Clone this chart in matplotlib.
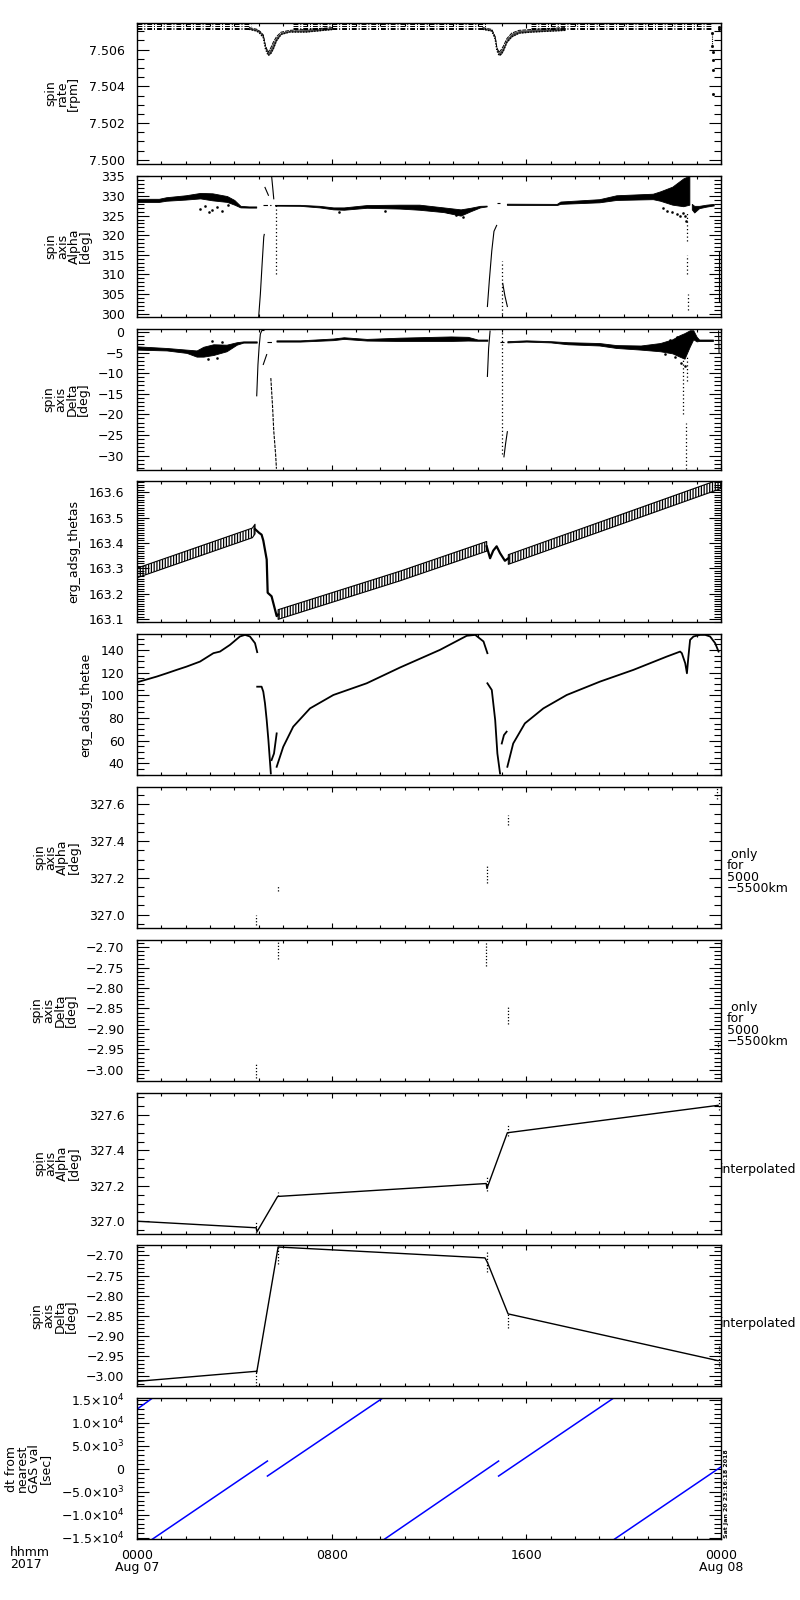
import matplotlib
matplotlib.use("Agg")
import matplotlib.pyplot as plt
from matplotlib.ticker import MultipleLocator, FixedLocator, FuncFormatter
import numpy as np

plt.rcParams['font.family'] = ['DejaVu Sans']
plt.rcParams['font.size'] = 9
plt.rcParams['axes.linewidth'] = 1.0
plt.rcParams['hatch.linewidth'] = 0.9

# ---------------- data (hours since 2017-08-07 00:00) ----------------
# panel 1: spin rate [rpm]
p1_base_levels = [7.50737, 7.50729, 7.50720, 7.50711]
p1_base_t0 = [0.0, 6.4, 16.2]
p1_base_t1 = [4.7, 14.4, 23.6]
p1_dip1_t = [4.60, 4.92, 5.05, 5.19, 5.28, 5.39, 5.50, 5.60, 5.73, 5.92, 6.27, 6.95, 8.05]
p1_dip1_lo = [7.50711, 7.50701, 7.50688, 7.50665, 7.50604, 7.50568, 7.50580, 7.50604, 7.50648, 7.50683, 7.50696, 7.50696, 7.50710]
p1_dip1_hi = [7.50720, 7.50711, 7.50700, 7.50680, 7.50620, 7.50585, 7.50610, 7.50640, 7.50670, 7.50695, 7.50705, 7.50710, 7.50720]
p1_dip2_t = [14.20, 14.58, 14.72, 14.79, 14.88, 14.97, 15.06, 15.20, 15.40, 15.70, 16.25, 17.60]
p1_dip2_lo = [7.50711, 7.50701, 7.50657, 7.50595, 7.50568, 7.50575, 7.50595, 7.50640, 7.50670, 7.50690, 7.50696, 7.50705]
p1_dip2_hi = [7.50720, 7.50710, 7.50670, 7.50610, 7.50585, 7.50600, 7.50620, 7.50660, 7.50690, 7.50705, 7.50710, 7.50720]
p1_end_t = [23.65, 23.65, 23.66, 23.66, 23.67, 23.68, 23.90, 23.91]
p1_end_v = [7.50690, 7.50621, 7.50586, 7.50542, 7.50489, 7.50356, 7.50715, 7.50722]

# panel 2: spin axis Alpha [deg]
p2_a_t = [0.0, 0.9, 1.2, 2.0, 2.6, 3.1, 3.7, 4.0, 4.25, 4.6, 4.9]
p2_a_hi = [329.3, 329.3, 329.7, 330.2, 330.8, 330.7, 330.0, 329.0, 327.5, 327.35, 327.35]
p2_a_lo = [328.5, 328.5, 328.8, 329.1, 329.4, 328.9, 328.5, 327.8, 327.1, 327.05, 327.05]
p2_b_t = [5.67, 6.7, 7.5, 8.07, 8.5, 9.44, 10.8, 11.6, 12.6, 13.3, 13.7, 14.1, 14.37]
p2_b_hi = [327.75, 327.75, 327.5, 327.1, 327.1, 327.7, 327.8, 327.8, 327.1, 326.6, 327.0, 327.5, 327.55]
p2_b_lo = [327.55, 327.5, 327.1, 326.6, 326.5, 327.0, 326.8, 326.5, 325.9, 325.0, 326.1, 327.1, 327.35]
p2_c_t = [15.2, 17.25, 17.4, 19.0, 19.7, 21.2, 21.5, 22.0, 22.45, 22.7]
p2_c_hi = [328.05, 328.0, 328.6, 329.2, 330.2, 330.6, 331.2, 332.4, 334.5, 335.2]
p2_c_lo = [327.75, 327.7, 328.0, 328.4, 329.0, 329.2, 328.8, 327.8, 327.4, 327.8]
p2_d_t = [22.8, 22.9, 23.1, 23.4, 23.7]
p2_d_hi = [328.0, 327.5, 327.5, 327.8, 328.0]
p2_d_lo = [326.6, 325.8, 326.9, 327.3, 327.6]
p2_sc_t = [2.6, 2.8, 2.95, 3.1, 3.3, 3.5, 3.75, 8.3, 10.2, 12.8, 13.1, 13.4, 21.6, 21.8, 22.0, 22.2, 22.3, 22.45, 22.5, 22.55]
p2_sc_v = [326.8, 327.5, 325.9, 326.5, 327.3, 326.2, 327.8, 325.9, 326.3, 325.8, 325.2, 324.6, 327.0, 326.2, 325.8, 325.4, 325.0, 325.6, 324.8, 323.6]
p2_e1a_t = [5.00, 5.07, 5.14, 5.21, 5.23]
p2_e1a_v = [299.2, 305.0, 312.5, 319.6, 320.2]
p2_e1b_t = [5.26, 5.40]
p2_e1b_v = [332.2, 330.2]
p2_e1c_t = [5.53, 5.58, 5.62]
p2_e1c_v = [335.2, 332.0, 329.3]
p2_e2a_t = [14.40, 14.48, 14.58, 14.67, 14.78]
p2_e2a_v = [301.8, 308.5, 316.0, 321.0, 322.5]
p2_e2d_t = [15.03, 15.12, 15.22]
p2_e2d_v = [307.7, 304.5, 301.8]
p2_dash_t0 = [5.19, 14.78]
p2_dash_t1 = [5.49, 14.90]
p2_dash_v = [327.6, 328.1]
p2_dots_t = [5.70, 14.99, 22.62, 22.60, 22.63]
p2_dots_lo = [310.0, 300.0, 318.5, 310.0, 301.0]
p2_dots_hi = [328.0, 313.5, 326.0, 315.0, 305.0]
p2_edge_t = [23.93, 23.93]
p2_edge_v = [303.0, 316.0]

# panel 3: spin axis Delta [deg]
p3_a_t = [0.0, 1.22, 2.04, 2.45, 2.73, 3.14, 3.68, 4.1, 4.37, 4.92]
p3_a_hi = [-3.5, -3.9, -4.3, -4.5, -3.6, -3.0, -3.1, -2.5, -2.3, -2.3]
p3_a_lo = [-4.3, -4.5, -5.1, -6.0, -6.0, -5.6, -4.7, -3.1, -2.6, -2.6]
p3_b_t = [5.73, 6.7, 8.07, 8.5, 9.44, 10.8, 12.9, 13.6, 14.0, 14.4]
p3_b_hi = [-2.05, -2.05, -1.6, -1.3, -1.7, -1.4, -1.1, -1.2, -1.85, -1.85]
p3_b_lo = [-2.35, -2.35, -2.0, -1.7, -2.1, -2.2, -2.2, -2.1, -2.15, -2.15]
p3_c_t = [15.22, 16.0, 17.0, 17.7, 19.0, 19.7, 20.7, 21.5, 22.0, 22.3, 22.5, 22.72, 22.86, 23.0, 23.1, 23.67]
p3_c_hi = [-2.25, -2.05, -2.25, -2.5, -2.7, -3.2, -3.3, -2.7, -1.8, -0.8, -0.3, 0.4, 0.4, -1.2, -1.85, -1.85]
p3_c_lo = [-2.55, -2.35, -2.55, -3.0, -3.3, -3.9, -4.3, -4.7, -5.2, -6.0, -6.5, -3.5, -1.8, -2.3, -2.2, -2.2]
p3_e1a_t = [4.92, 4.97, 5.02, 5.07, 5.12]
p3_e1a_v = [-15.5, -8.0, -3.5, -0.5, 0.2]
p3_e1b_t = [5.19, 5.33]
p3_e1b_v = [-7.9, -5.5]
p3_e1d_t = [5.50, 5.57, 5.62, 5.70, 5.73]
p3_e1d_v = [-11.2, -18.0, -24.0, -30.0, -33.2]
p3_e2a_t = [14.40, 14.45, 14.51]
p3_e2a_v = [-10.8, -4.0, 0.2]
p3_e2d_t = [15.08, 15.15, 15.22]
p3_e2d_v = [-30.3, -27.0, -24.2]
p3_dash_t0 = [5.33, 5.10, 14.55, 14.90]
p3_dash_t1 = [5.53, 5.20, 14.78, 15.08]
p3_dash_v = [-2.45, 0.4, 0.6, -2.45]
p3_dots_t = [14.99, 22.45, 22.55, 22.60]
p3_dots_lo = [-29.5, -20.0, -33.2, -12.0]
p3_dots_hi = [0.6, -5.0, -22.0, -6.0]
p3_sc_t = [2.9, 3.1, 3.3, 3.5, 21.7, 21.9, 22.1, 22.2, 22.35, 22.5]
p3_sc_v = [-6.6, -2.2, -6.4, -2.4, -5.4, -2.0, -6.2, -1.2, -7.6, -8.2]
p3_edge_t = [23.90, 23.92]
p3_edge_v = [0.2, -5.0]

# panel 4: erg_adsg_thetas
p4_a_t = [0.0, 4.74, 4.85]
p4_a_v = [163.282, 163.440, 163.455]
p4_tr1_t = [4.85, 5.02, 5.12, 5.19, 5.33, 5.37, 5.53, 5.67, 5.74, 5.80]
p4_tr1_v = [163.455, 163.440, 163.433, 163.410, 163.335, 163.204, 163.190, 163.138, 163.112, 163.118]
p4_b_t = [5.80, 10.81, 14.37]
p4_b_v = [163.118, 163.270, 163.387]
p4_tr2_t = [14.37, 14.51, 14.64, 14.78, 14.92, 15.12, 15.26]
p4_tr2_v = [163.387, 163.340, 163.370, 163.387, 163.360, 163.330, 163.340]
p4_c_t = [15.26, 23.89, 24.0]
p4_c_v = [163.335, 163.630, 163.635]

# panel 5: erg_adsg_thetae
p5_a_t = [0.0, 0.81, 1.22, 1.63, 2.04, 2.59, 3.14, 3.41, 3.82, 4.23, 4.44, 4.64, 4.85, 4.94]
p5_a_v = [111.5, 116.5, 119.4, 122.4, 125.3, 129.7, 137.1, 138.5, 144.4, 151.8, 153.2, 151.8, 145.9, 138.0]
p5_a1_t = [4.94, 5.12, 5.19, 5.26, 5.33, 5.40, 5.50]
p5_a1_v = [107.6, 107.6, 103.2, 92.9, 78.2, 60.6, 31.2]
p5_a2_t = [5.53, 5.63, 5.74]
p5_a2_v = [43.0, 48.8, 66.5]
p5_b_t = [5.74, 6.01, 6.42, 7.11, 8.07, 9.44, 10.81, 12.45, 13.55, 13.90, 14.24, 14.40]
p5_b_v = [37.1, 54.7, 72.4, 88.5, 100.3, 110.6, 124.5, 140.0, 152.4, 153.2, 147.4, 137.1]
p5_b1_t = [14.40, 14.58, 14.72, 14.81, 14.92]
p5_b1_v = [110.6, 104.7, 78.2, 48.8, 31.2]
p5_b2_t = [14.99, 15.08, 15.19]
p5_b2_v = [57.6, 65.0, 68.0]
p5_c_t = [15.22, 15.46, 15.94, 16.70, 17.66, 19.03, 20.40, 21.77, 22.32, 22.39, 22.53, 22.60, 22.66, 22.73,
          22.87, 23.14, 23.35, 23.55, 23.76, 23.90]
p5_c_v = [37.1, 57.6, 75.3, 88.5, 100.3, 112.1, 122.4, 134.1, 138.5, 137.1, 128.2, 119.4, 134.0, 148.8,
          151.8, 153.2, 153.2, 151.8, 145.9, 138.5]

# panel 6/7: values only for 5000-5500 km (short dotted clusters)
p6_t = [4.90, 5.78, 14.37, 15.25, 23.85]
p6_lo = [326.945, 327.130, 327.173, 327.490, 327.630]
p6_hi = [327.000, 327.160, 327.264, 327.545, 327.690]
p7_t = [4.90, 5.78, 14.35, 15.25, 23.87]
p7_lo = [-3.020, -2.730, -2.746, -2.888, -2.960]
p7_hi = [-2.985, -2.680, -2.688, -2.843, -2.930]

# panel 8/9: interpolated
p8_t = [0.0, 4.90, 4.93, 5.78, 14.35, 14.38, 15.22, 23.88]
p8_v = [327.000, 326.963, 326.940, 327.140, 327.213, 327.185, 327.500, 327.655]
p8_dots_t = [4.90, 5.80, 14.37, 15.25, 23.90]
p8_dots_lo = [326.935, 327.140, 327.170, 327.480, 327.630]
p8_dots_hi = [326.995, 327.165, 327.250, 327.545, 327.720]
p9_t = [0.0, 4.90, 4.92, 5.80, 14.30, 14.40, 15.25, 23.87]
p9_v = [-3.0125, -2.9875, -2.990, -2.679, -2.706, -2.717, -2.845, -2.961]
p9_dots_t = [4.90, 5.80, 14.37, 15.25, 23.90]
p9_dots_lo = [-3.025, -2.720, -2.742, -2.880, -2.975]
p9_dots_hi = [-2.990, -2.680, -2.688, -2.845, -2.920]

# panel 10: dt from nearest GAS value [sec]
p10_t0 = [0.00, 0.63, 5.36, 10.17, 14.86, 19.62]
p10_t1 = [0.63, 5.36, 10.09, 14.86, 19.58, 24.00]
p10_v0 = [12960, -15364, -1600, -15364, -1600, -15364]
p10_v1 = [15364, 1670, 15364, 1670, 15364, 400]

# axis settings
ylims = [(7.49977, 7.50745), (299.17, 335.17), (-33.4, 0.8), (163.087, 163.643), (29.7, 153.8),
         (326.927, 327.695), (-3.027, -2.682), (326.930, 327.727), (-3.025, -2.675), (-15364, 15364)]
ymajor = [0.002, 5, 5, 0.1, 20, 0.2, 0.05, 0.2, 0.05, 5000]
yminor = [0.0005, 1, 1, 0.01, 5, 0.05, 0.01, 0.05, 0.01, 1000]
ylabels = ['spin\nrate\n[rpm]', 'spin\naxis\nAlpha\n[deg]', 'spin\naxis\nDelta\n[deg]',
           'erg_adsg_thetas', 'erg_adsg_thetae', 'spin\naxis\nAlpha\n[deg]', 'spin\naxis\nDelta\n[deg]',
           'spin\naxis\nAlpha\n[deg]', 'spin\naxis\nDelta\n[deg]', 'dt from\nnearest\nGAS val\n[sec]']
yfmt = ['%.3f', '%d', '%d', '%.1f', '%d', '%.1f', '%.2f', '%.1f', '%.2f', None]
xtick_pos = [0, 8, 16, 24]
xtick_lab = ['0000\nAug 07', '0800', '1600', '0000\nAug 08']

# ---------------- figure ----------------
W, H = 800, 1600
fig = plt.figure(figsize=(8, 16), dpi=100)
LEFT, RIGHT, TOP0, STEP, PH = 137, 721, 23, 152.8, 141

def sci_fmt(v, pos):
    if abs(v) < 1e-9:
        return '0'
    e = int(np.floor(np.log10(abs(v))))
    m = v / 10**e
    s = '%.1f' % abs(m)
    sign = '\u2212' if v < 0 else ''
    return r'%s%s$\times$10$^{%d}$' % (sign, s, e)

def fmt_factory(f):
    def _f(v, pos):
        s = f % v
        return s.replace('-', '\u2212')
    return _f

axes = []
for i in range(10):
    top = TOP0 + STEP * i
    ax = fig.add_axes([LEFT / W, 1 - (top + PH) / H, (RIGHT - LEFT) / W, PH / H])
    ax.set_xlim(0, 24)
    ax.set_ylim(*ylims[i])
    ax.xaxis.set_major_locator(FixedLocator(xtick_pos))
    ax.xaxis.set_minor_locator(MultipleLocator(1))
    ax.yaxis.set_major_locator(MultipleLocator(ymajor[i]))
    ax.yaxis.set_minor_locator(MultipleLocator(yminor[i]))
    ax.tick_params(axis='x', which='major', direction='in', length=3.6, width=0.8,
                   top=True, bottom=True, pad=7)
    ax.tick_params(axis='x', which='minor', direction='in', length=1.9, width=0.8,
                   top=True, bottom=True)
    ax.tick_params(axis='y', which='major', direction='in', length=8.5, width=0.8,
                   left=True, right=True, pad=9)
    ax.tick_params(axis='y', which='minor', direction='in', length=4.8, width=0.8,
                   left=True, right=True)
    if yfmt[i] is None:
        ax.yaxis.set_major_formatter(FuncFormatter(sci_fmt))
    else:
        ax.yaxis.set_major_formatter(FuncFormatter(fmt_factory(yfmt[i])))
    if i == 9:
        ax.set_xticklabels(xtick_lab, linespacing=0.95)
    else:
        ax.tick_params(axis='x', labelbottom=False)
    ax.set_ylabel(ylabels[i], linespacing=0.85, labelpad=6)
    axes.append(ax)

K = 'black'
lw = 0.8

# panel 1
ax = axes[0]
for lev in p1_base_levels:
    for a, b in zip(p1_base_t0, p1_base_t1):
        ax.plot([a, b], [lev, lev], color=K, lw=0.7, dashes=(5, 2, 1, 2))
ax.fill_between(p1_dip1_t, p1_dip1_lo, p1_dip1_hi, color='0.3', lw=0)
ax.plot(p1_dip1_t, p1_dip1_lo, color=K, lw=1.0, ls=(0, (1, 1)))
ax.plot(p1_dip1_t, p1_dip1_hi, color=K, lw=0.7, dashes=(4, 1))
ax.fill_between(p1_dip2_t, p1_dip2_lo, p1_dip2_hi, color='0.3', lw=0)
ax.plot(p1_dip2_t, p1_dip2_lo, color=K, lw=1.0, ls=(0, (1, 1)))
ax.plot(p1_dip2_t, p1_dip2_hi, color=K, lw=0.7, dashes=(4, 1))
ax.vlines(p1_end_t[0], p1_end_v[1], p1_end_v[0], color=K, lw=0.8, linestyles=(0, (1, 1)))
ax.plot(p1_end_t, p1_end_v, ls='none', marker='s', ms=1.0, color=K)

# panel 2
ax = axes[1]
for t, lo, hi in [(p2_a_t, p2_a_lo, p2_a_hi), (p2_b_t, p2_b_lo, p2_b_hi),
                  (p2_c_t, p2_c_lo, p2_c_hi), (p2_d_t, p2_d_lo, p2_d_hi)]:
    ax.fill_between(t, lo, hi, color=K, lw=0.6)
ax.plot(p2_sc_t, p2_sc_v, ls='none', marker='s', ms=0.8, color=K)
for t, v in [(p2_e1a_t, p2_e1a_v), (p2_e1b_t, p2_e1b_v), (p2_e1c_t, p2_e1c_v),
             (p2_e2a_t, p2_e2a_v), (p2_e2d_t, p2_e2d_v), (p2_edge_t, p2_edge_v)]:
    ax.plot(t, v, color=K, lw=lw)
for a, b, v in zip(p2_dash_t0, p2_dash_t1, p2_dash_v):
    ax.plot([a, b], [v, v], color=K, lw=lw, dashes=(4, 2))
ax.vlines(p2_dots_t, p2_dots_lo, p2_dots_hi, color=K, lw=0.9, linestyles=(0, (1, 2)))

# panel 3
ax = axes[2]
for t, lo, hi in [(p3_a_t, p3_a_lo, p3_a_hi), (p3_b_t, p3_b_lo, p3_b_hi), (p3_c_t, p3_c_lo, p3_c_hi)]:
    ax.fill_between(t, lo, hi, color=K, lw=0.6)
ax.plot(p3_sc_t, p3_sc_v, ls='none', marker='s', ms=0.8, color=K)
for t, v in [(p3_e1a_t, p3_e1a_v), (p3_e1b_t, p3_e1b_v), (p3_e2a_t, p3_e2a_v),
             (p3_e2d_t, p3_e2d_v), (p3_edge_t, p3_edge_v)]:
    ax.plot(t, v, color=K, lw=lw)
ax.plot(p3_e1d_t, p3_e1d_v, color=K, lw=lw, ls=(0, (3, 1)))
for a, b, v in zip(p3_dash_t0, p3_dash_t1, p3_dash_v):
    ax.plot([a, b], [v, v], color=K, lw=lw, dashes=(4, 2))
ax.vlines(p3_dots_t, p3_dots_lo, p3_dots_hi, color=K, lw=0.9, linestyles=(0, (1, 2)))

# panel 4
ax = axes[3]
hw = 0.019
for t, v in [(p4_a_t, p4_a_v), (p4_b_t, p4_b_v), (p4_c_t, p4_c_v)]:
    v = np.asarray(v)
    ax.fill_between(t, v - hw, v + hw, facecolor='white', edgecolor=K, hatch='||||||', lw=0.8)
for t, v in [(p4_tr1_t, p4_tr1_v), (p4_tr2_t, p4_tr2_v)]:
    ax.plot(t, v, color=K, lw=1.6)

# panel 5
ax = axes[4]
for t, v in [(p5_a_t, p5_a_v), (p5_a1_t, p5_a1_v), (p5_a2_t, p5_a2_v),
             (p5_b_t, p5_b_v), (p5_b1_t, p5_b1_v), (p5_b2_t, p5_b2_v), (p5_c_t, p5_c_v)]:
    ax.plot(t, v, color=K, lw=1.3)

# panel 6 / 7
axes[5].vlines(p6_t, p6_lo, p6_hi, color=K, lw=0.9, linestyles=(0, (1, 1.5)))
axes[6].vlines(p7_t, p7_lo, p7_hi, color=K, lw=0.9, linestyles=(0, (1, 1.5)))

# panel 8 / 9
axes[7].plot(p8_t, p8_v, color=K, lw=1.0)
axes[7].vlines(p8_dots_t, p8_dots_lo, p8_dots_hi, color=K, lw=0.9, linestyles=(0, (1, 1.5)))
axes[8].plot(p9_t, p9_v, color=K, lw=1.0)
axes[8].vlines(p9_dots_t, p9_dots_lo, p9_dots_hi, color=K, lw=0.9, linestyles=(0, (1, 1.5)))

# panel 10
ax = axes[9]
for a, b, c, d in zip(p10_t0, p10_t1, p10_v0, p10_v1):
    ax.plot([a, b], [c, d], color='#0000ff', lw=1.1)

# right-side notes
def fy(px):
    return 1 - px / H
note = ' only\nfor\n5000\n\u22125500km'
fig.text(727 / W, fy(TOP0 + STEP * 5 + PH / 2 + 14), note, ha='left', va='center', linespacing=0.85)
fig.text(727 / W, fy(TOP0 + STEP * 6 + PH / 2 + 14), note, ha='left', va='center', linespacing=0.85)
fig.text(720 / W, fy(TOP0 + STEP * 7 + PH / 2 + 6), 'interpolated', ha='left', va='center')
fig.text(720 / W, fy(TOP0 + STEP * 8 + PH / 2 + 8), 'interpolated', ha='left', va='center')
fig.text(724 / W, fy(1538), 'Sat Jan 20 23:16:18 2018', rotation=90, ha='left', va='bottom',
         fontsize=4.5, fontweight='bold')
fig.text(10 / W, fy(1546), 'hhmm\n2017', ha='left', va='top', linespacing=0.95)

fig.savefig('out.png', dpi=100)
